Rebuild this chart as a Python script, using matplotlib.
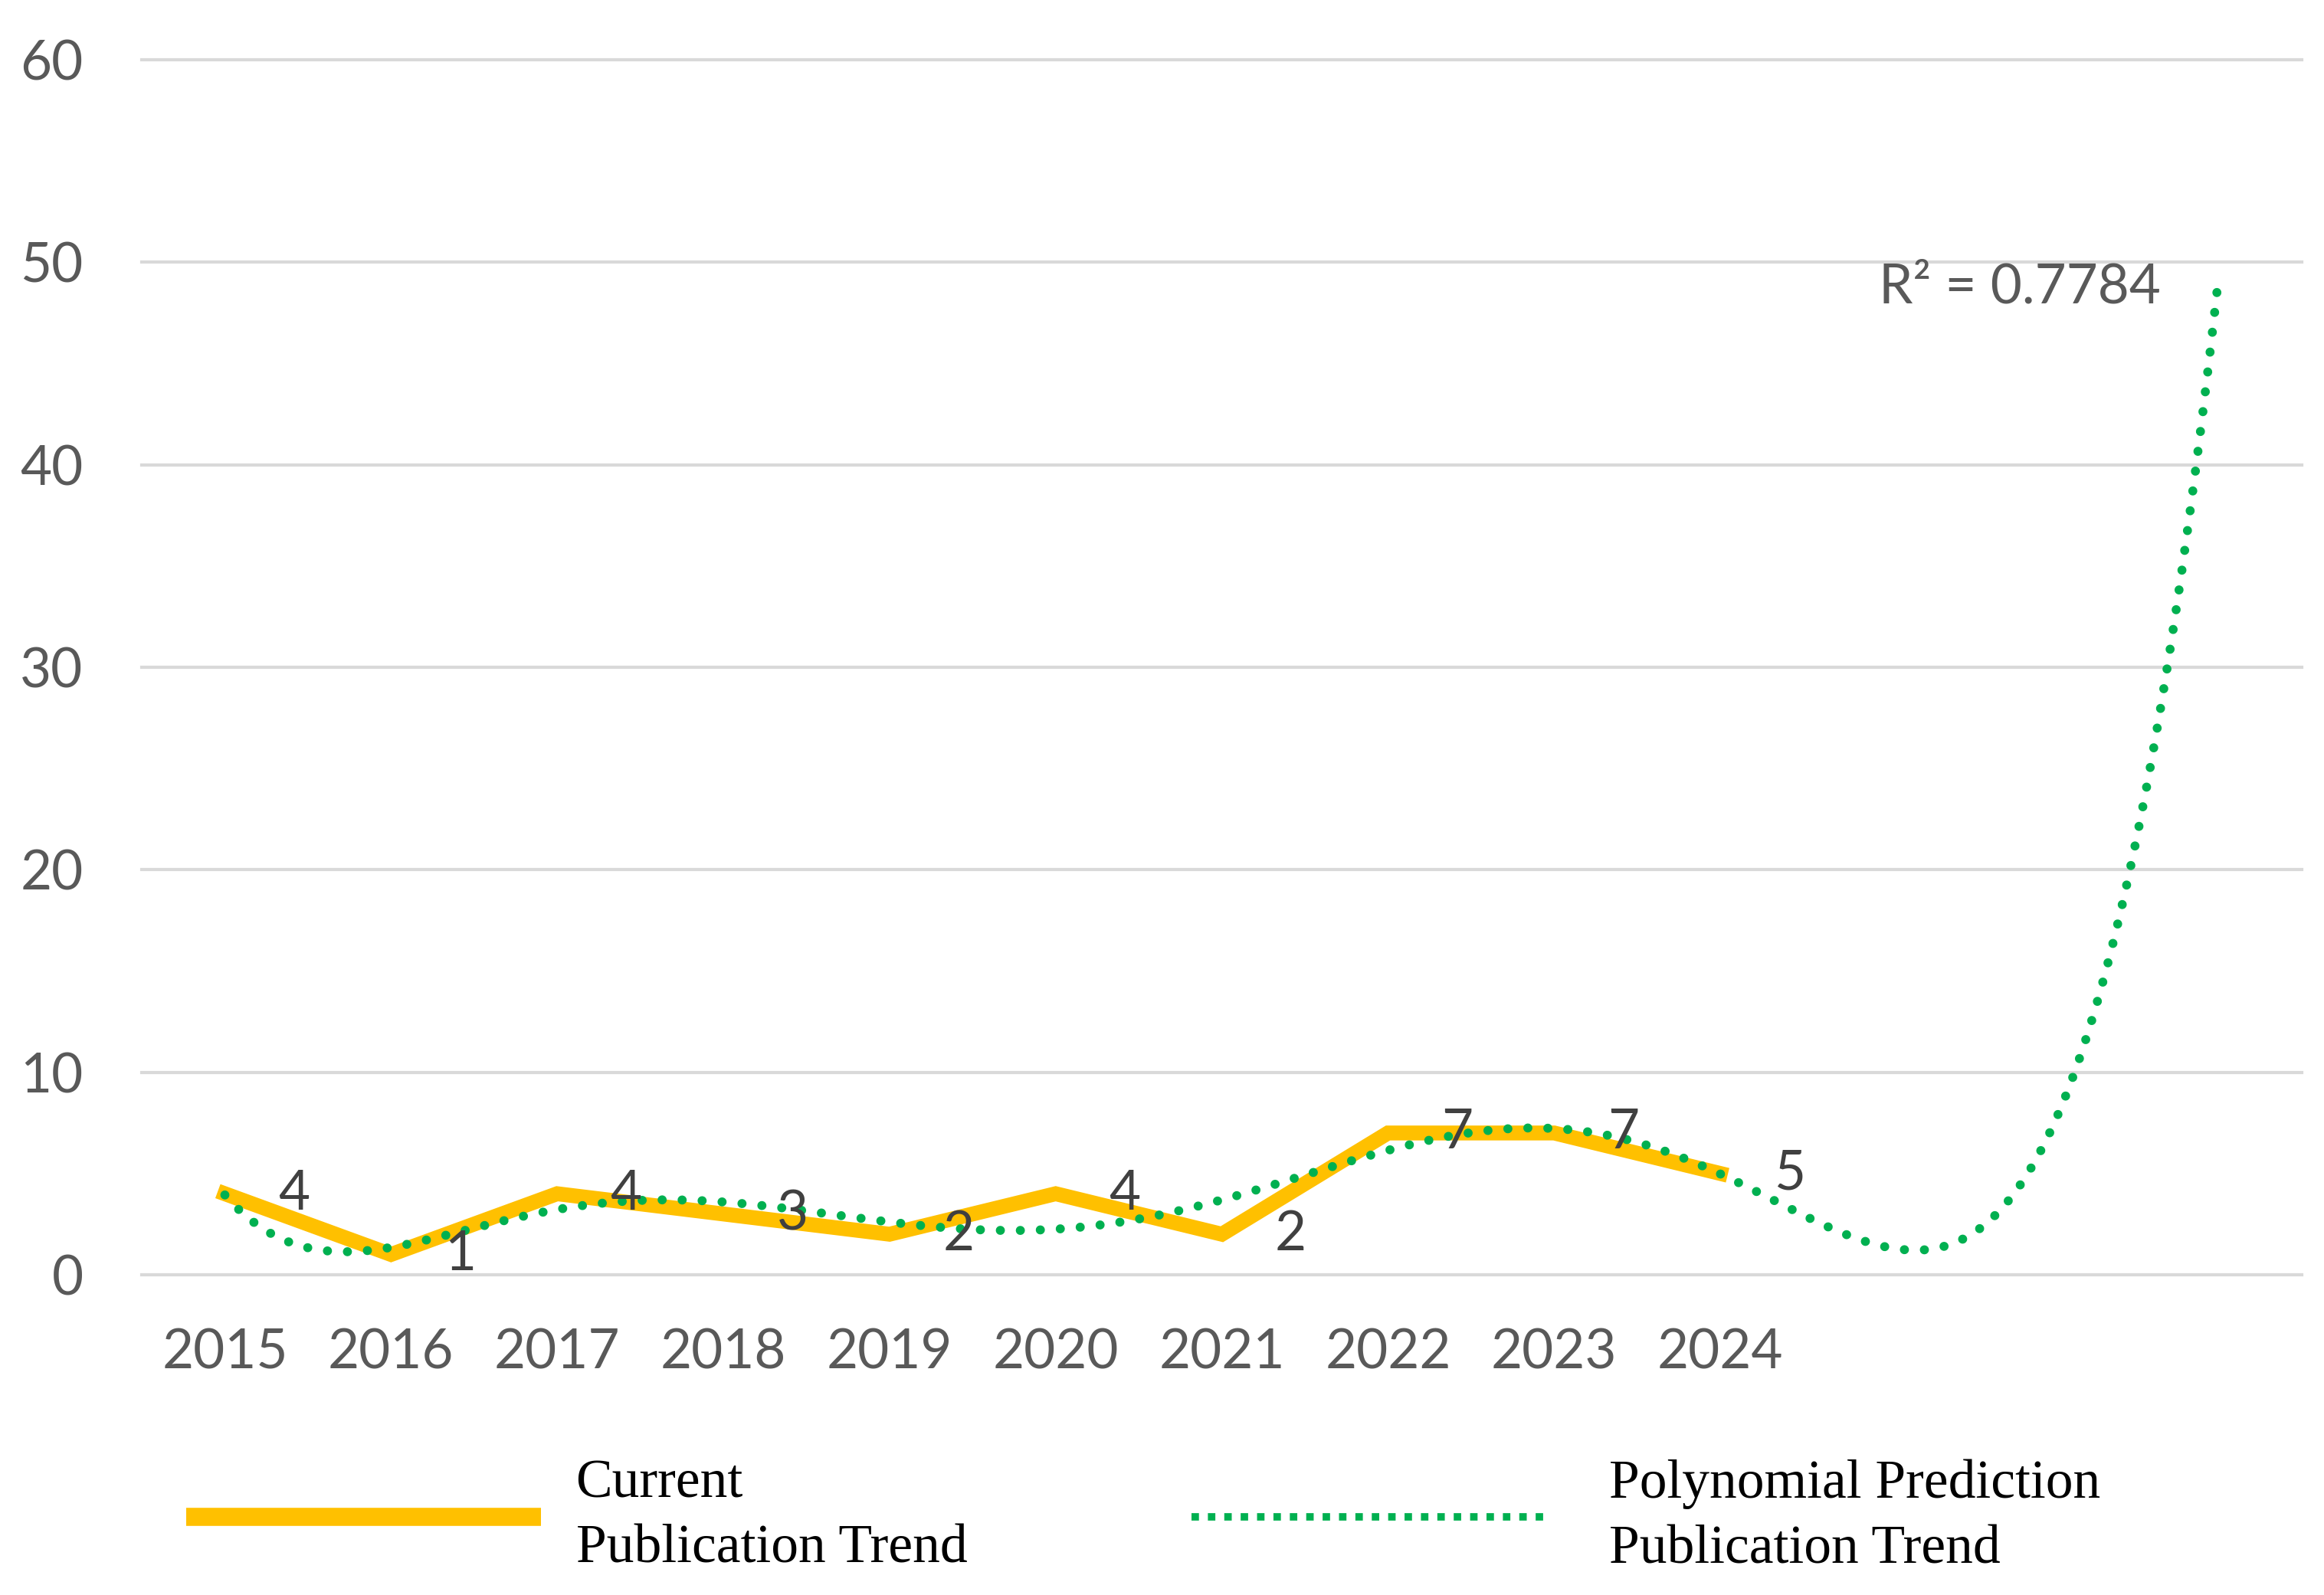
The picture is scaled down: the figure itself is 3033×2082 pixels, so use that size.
import numpy as np
import matplotlib.pyplot as plt
from matplotlib.lines import Line2D

years = ['2015', '2016', '2017', '2018', '2019', '2020', '2021', '2022', '2023', '2024']
counts = [4, 1, 4, 3, 2, 4, 2, 7, 7, 5]
poly_order = 6          # Excel polynomial trendline, order 6
forecast_periods = 3    # forward forecast of the trendline
yticks = [0, 10, 20, 30, 40, 50, 60]

yellow = '#FFC000'
green = '#00B050'
grey_txt = '#595959'

# Excel puts categories at x = 1..n
xs = np.arange(1, len(counts) + 1)
ys = np.array(counts, dtype=float)
coef = np.polyfit(xs, ys, poly_order)
fit = np.polyval(coef, xs)
r2 = 1 - np.sum((ys - fit) ** 2) / np.sum((ys - ys.mean()) ** 2)
xt = np.linspace(1, len(counts) + forecast_periods, 600)
yt = np.polyval(coef, xt)

fig = plt.figure(figsize=(30.33, 20.82), dpi=100)
ax = fig.add_axes([0.061, 0.2008, 0.9295, 0.7617])

ax.plot(xs, counts, color=yellow, lw=14, solid_joinstyle='miter', zorder=2)
ax.plot(xt, yt, color=green, lw=8.5, linestyle=(0, (0.01, 2.2)),
        dash_capstyle='round', zorder=3)

for x, v in zip(xs, counts):
    ax.annotate(str(v), (x, v), xytext=(50, 0), textcoords='offset points',
                ha='left', va='center', fontsize=51, color='#404040',
                family='Lato', zorder=4)

ax.text(len(counts) + 1.8, 50, f'R² = {r2:.4f}', fontsize=51, color=grey_txt,
        family='Lato', ha='center', va='top')

ax.set_xlim(0.5, len(counts) + forecast_periods + 0.5)
ax.set_ylim(0, 60)
ax.set_xticks(xs)
ax.set_xticklabels(years)
ax.set_yticks(yticks)
ax.tick_params(length=0, labelsize=51, labelcolor=grey_txt)
ax.tick_params(axis='y', pad=55)
ax.tick_params(axis='x', pad=50)
for lab in ax.get_xticklabels() + ax.get_yticklabels():
    lab.set_family('Lato')
ax.grid(axis='y', color='#D9D9D9', lw=3)
for gl in ax.get_ygridlines():
    gl.set_clip_on(False)
ax.set_axisbelow(True)
for s in ax.spines.values():
    s.set_visible(False)

# legend: two entries placed like the Excel legend boxes
leg_font = {'family': 'Liberation Serif', 'size': 51.5}
h1 = Line2D([], [], color=yellow, lw=17, solid_capstyle='butt')
h2 = Line2D([], [], color=green, lw=7, linestyle=(0, (1, 1.2)), dash_capstyle='butt')
leg1 = fig.legend([h1], ['Current\nPublication Trend'], loc='center left',
                  bbox_to_anchor=(243 / 3033, 0.049), frameon=False,
                  handlelength=6.47, handletextpad=0.64, borderpad=0,
                  borderaxespad=0, prop=leg_font)
leg2 = fig.legend([h2], ['Polynomial Prediction\nPublication Trend'], loc='center left',
                  bbox_to_anchor=(1555 / 3033, 0.049), frameon=False,
                  handlelength=6.53, handletextpad=1.09, borderpad=0,
                  borderaxespad=0, prop=leg_font)
for leg in (leg1, leg2):
    for t in leg.get_texts():
        t.set_linespacing(1.4)

fig.savefig('out.png')
